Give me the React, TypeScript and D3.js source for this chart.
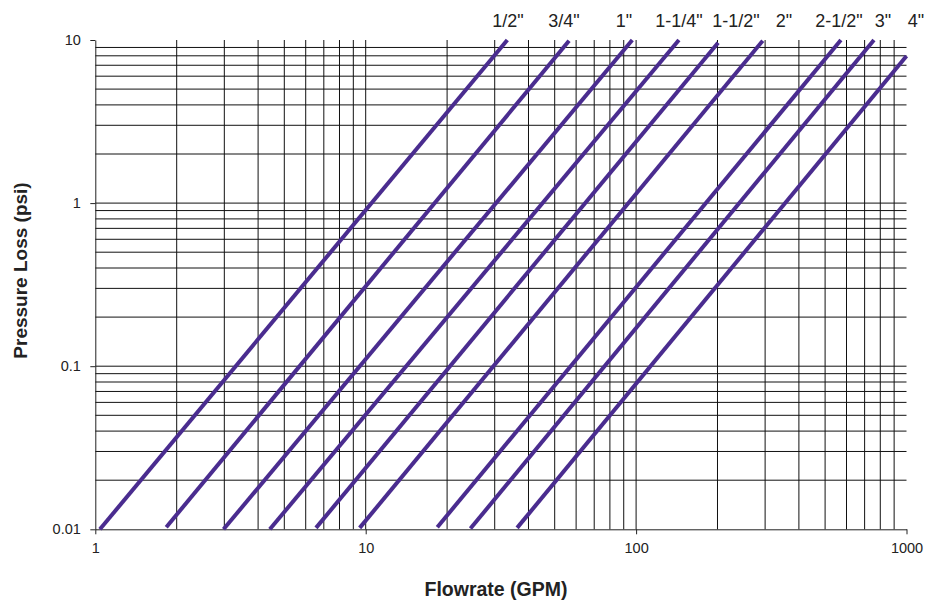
import * as d3 from 'd3'
import { useEffect, useRef } from 'react'

// pipe sizes and the end points of each friction-loss line (GPM, psi)
const sizes = ['1/2"', '3/4"', '1"', '1-1/4"', '1-1/2"', '2"', '2-1/2"', '3"', '4"']
const startFlow = [1.04, 1.83, 2.98, 4.42, 6.55, 9.5, 18.4, 24.4, 36.3]
const startLoss = [0.01, 0.0103, 0.01, 0.01, 0.0102, 0.0102, 0.0103, 0.0101, 0.0102]
const endFlow = [33.4, 56.5, 96.8, 144, 201, 294, 572, 758, 1000]
const endLoss = [10, 9.9, 10, 10, 9.63, 9.9, 10, 10, 7.98]
// where each size label sits along the flow axis
const labelFlow = [33.6, 54.1, 90.2, 144, 234, 352, 563, 819, 1084]

const xTicks = [1, 10, 100, 1000]
const xTickLabels = ['1', '10', '100', '1000']
const yTicks = [0.01, 0.1, 1, 10]
const yTickLabels = ['0.01', '0.1', '1', '10']

type Pt = { flow: number; loss: number }

export default function App() {
  const width = 941
  const height = 601
  const marginTop = 40
  const marginRight = 34.5
  const marginBottom = 71.7
  const marginLeft = 95.3
  const font = '"Liberation Sans", Arial, sans-serif'
  const lineColor = '#4a2c8f'

  const x = d3.scaleLog([1, 1000], [marginLeft, width - marginRight])
  const y = d3.scaleLog([0.01, 10], [height - marginBottom, marginTop])

  const line = d3.line<Pt>()
  line.x((d) => x(d.flow))
  line.y((d) => y(d.loss))

  const series = sizes.map((s, i) => ({
    size: s,
    pts: [
      { flow: startFlow[i], loss: startLoss[i] },
      { flow: endFlow[i], loss: endLoss[i] },
    ],
  }))

  // minor + major grid
  const vGrid = x.ticks().filter((v) => v > 1 && v < 1000)
  const hGrid = y.ticks().filter((v) => v > 0.01 && v < 10)

  const gx = useRef<SVGGElement>(null)
  const gy = useRef<SVGGElement>(null)

  useEffect(() => {
    const xAxis = d3
      .axisBottom(x)
      .tickValues(xTicks)
      .tickFormat((_, i) => xTickLabels[i])
      .tickSize(5)
      .tickSizeOuter(0)
      .tickPadding(8)
    const g = d3.select(gx.current as SVGGElement).call(xAxis)
    g.selectAll('text').attr('font-size', 14.5).attr('fill', '#222').attr('font-family', font)
    g.selectAll('line, path').attr('stroke', '#222')
  }, [])

  useEffect(() => {
    const yAxis = d3
      .axisLeft(y)
      .tickValues(yTicks)
      .tickFormat((_, i) => yTickLabels[i])
      .tickSize(5)
      .tickSizeOuter(0)
      .tickPadding(9.5)
    const g = d3.select(gy.current as SVGGElement).call(yAxis)
    g.selectAll('text').attr('font-size', 14.5).attr('fill', '#222').attr('font-family', font)
    g.selectAll('line, path').attr('stroke', '#222')
  }, [])

  return (
    <svg
      width={width}
      height={height}
      style={{ position: 'absolute', left: 0, top: 0, background: '#fff' }}
    >
      <g stroke="#111" strokeWidth={1}>
        {vGrid.map((v) => (
          <line key={'v' + v} x1={x(v)} x2={x(v)} y1={y(10)} y2={y(0.01)} />
        ))}
        {hGrid.map((v) => (
          <line key={'h' + v} x1={x(1)} x2={x(1000)} y1={y(v)} y2={y(v)} />
        ))}
      </g>
      <g ref={gx} transform={`translate(0,${height - marginBottom})`} />
      <g ref={gy} transform={`translate(${marginLeft},0)`} />

      {series.map((s) => (
        <path
          key={s.size}
          d={line(s.pts) as string}
          fill="none"
          stroke={lineColor}
          strokeWidth={4}
        />
      ))}

      <g fontFamily={font} fontSize={18} fill="#222" textAnchor="middle">
        {sizes.map((s, i) => (
          <text key={s} x={x(labelFlow[i])} y={26.7}>
            {s}
          </text>
        ))}
      </g>

      <text
        x={496}
        y={596}
        textAnchor="middle"
        fontFamily={font}
        fontSize={19.5}
        fontWeight="bold"
        fill="#222"
      >
        Flowrate (GPM)
      </text>
      <text
        transform={`translate(26.5,270.5) rotate(-90)`}
        textAnchor="middle"
        fontFamily={font}
        fontSize={19}
        fontWeight="bold"
        fill="#222"
      >
        Pressure Loss (psi)
      </text>
    </svg>
  )
}
